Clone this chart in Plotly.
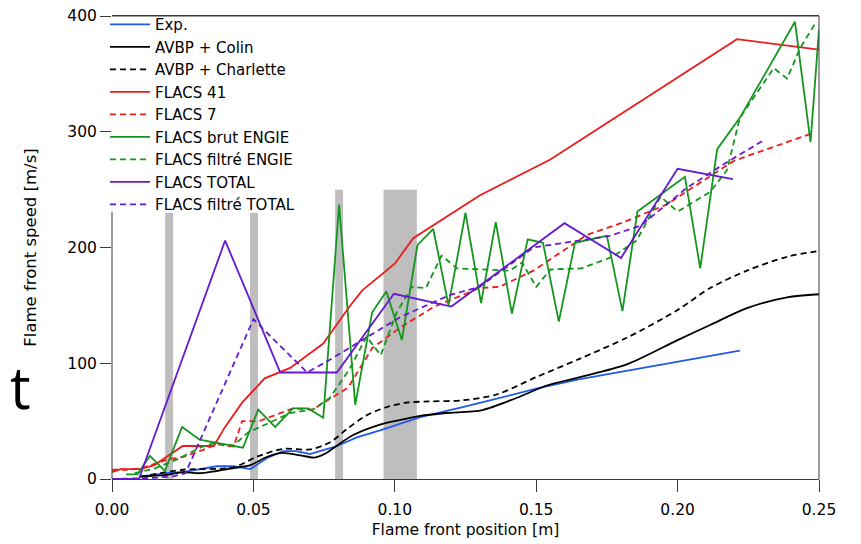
import plotly.graph_objects as go

# ---------------- data ----------------
exp_x = [0.010, 0.019, 0.025, 0.037, 0.043, 0.049, 0.0547, 0.0605, 0.065, 0.070, 0.0747, 0.0796, 0.0866, 0.0948, 0.109, 0.124, 0.150, 0.165, 0.222]
exp_y = [2, 5, 6, 11, 11, 8.6, 18, 24, 24, 21.6, 25, 28.5, 36, 42, 53.5, 62, 78, 86, 111]

colin_x = [0.010, 0.019, 0.025, 0.031, 0.043, 0.049, 0.0547, 0.060, 0.0665, 0.0715, 0.0755, 0.0796, 0.0853, 0.0948, 0.102, 0.109, 0.118, 0.131, 0.143, 0.154, 0.1655, 0.182, 0.200, 0.2115, 0.2245, 0.2387, 0.250]
colin_y = [2, 3.5, 6, 5, 9.5, 12, 19, 22.5, 20.5, 18.5, 22, 29, 38, 47, 51, 54.5, 57, 59.6, 70, 81, 88, 99, 120, 133, 147.6, 157, 159.6]

charl_x = [0.010, 0.025, 0.043, 0.051, 0.0605, 0.070, 0.077, 0.083, 0.090, 0.097, 0.104, 0.112, 0.124, 0.136, 0.150, 0.1655, 0.182, 0.200, 0.2115, 0.2245, 0.2387, 0.250]
charl_y = [2, 8, 10, 19, 26, 25.5, 31.5, 43, 55, 62, 66, 67, 68, 73, 88, 104, 122, 146, 165, 180, 192, 197]

f41_x = [0.0, 0.003, 0.010, 0.015, 0.025, 0.036, 0.040, 0.046, 0.054, 0.063, 0.0747, 0.084, 0.0885, 0.100, 0.1065, 0.130, 0.155, 0.221, 0.250]
f41_y = [6, 8.6, 8.6, 12, 28.5, 28.5, 45, 66, 87, 96, 117, 149, 163, 186, 208, 245, 276, 380, 371]

f7_x = [0.0, 0.005, 0.010, 0.020, 0.025, 0.032, 0.037, 0.043, 0.046, 0.052, 0.064, 0.071, 0.0835, 0.092, 0.102, 0.114, 0.130, 0.137, 0.149, 0.168, 0.180, 0.196, 0.220, 0.248]
f7_y = [8, 8, 9, 17, 19, 25, 30, 28, 50, 50, 61, 60, 79, 113, 131, 149, 165, 166, 180, 211, 221, 237, 275, 299]

eb_x = [0.005, 0.009, 0.0134, 0.0187, 0.0248, 0.031, 0.0375, 0.0463, 0.0517, 0.0577, 0.064, 0.0694, 0.0747, 0.0803, 0.086, 0.092, 0.097, 0.1025, 0.108, 0.1136, 0.119, 0.125, 0.1305, 0.1357, 0.1414, 0.147, 0.1524, 0.158, 0.1637, 0.175, 0.1805, 0.1858, 0.2026, 0.208, 0.214, 0.222, 0.2415, 0.247, 0.250]
eb_y = [4, 4, 20, 7, 45, 34, 31, 27, 60, 45, 61, 61, 53, 237, 64, 144, 162, 120, 202, 216, 150, 230, 152, 222, 143, 207, 204, 136, 204, 210, 145, 231, 261, 182, 285, 312, 395, 291, 388]

ef_x = [0.008, 0.015, 0.023, 0.032, 0.036, 0.043, 0.048, 0.055, 0.063, 0.071, 0.077, 0.084, 0.090, 0.095, 0.1007, 0.106, 0.111, 0.1165, 0.122, 0.1407, 0.145, 0.150, 0.155, 0.166, 0.177, 0.1855, 0.194, 0.200, 0.2115, 0.2175, 0.222, 0.234, 0.2387, 0.2433, 0.249]
ef_y = [5, 9, 17, 28, 31, 29, 40, 48, 57, 60, 70, 95, 123, 107, 144, 166, 165, 193, 182, 180, 187, 166, 181, 182, 192, 206, 244, 231, 248, 267, 312, 355, 346, 372, 395]

tb_x = [0.0, 0.0095, 0.040, 0.0595, 0.0795, 0.0997, 0.120, 0.160, 0.180, 0.200, 0.2196]
tb_y = [0, 0, 206, 92, 92, 160, 149, 221, 191, 268, 259]

tf_x = [0.0, 0.015, 0.022, 0.026, 0.050, 0.069, 0.077, 0.102, 0.1195, 0.130, 0.149, 0.176, 0.187, 0.203, 0.217, 0.230]
tf_y = [0, 1, 2.5, 5, 138, 92, 103, 140, 159, 166, 200, 210, 219, 251, 273, 292]

band_x0 = [0.0188, 0.0488, 0.0789, 0.0960]
band_x1 = [0.0216, 0.0516, 0.0817, 0.1078]
band_top = [230, 230, 250, 250]

x_ticks = [0.00, 0.05, 0.10, 0.15, 0.20, 0.25]
x_tick_text = ["0.00", "0.05", "0.10", "0.15", "0.20", "0.25"]
y_ticks = [0, 100, 200, 300, 400]
y_axis_visible_from = 0
y_axis_visible_to = 231   # part of the left axis not hidden by the legend box

# ---------------- figure ----------------
BLUE = "#2159e8"
RED = "#ea1c1c"
GREEN = "#14961e"
PURPLE = "#6419d2"
DASH = "6px,4px"
AXC = "#3a3a3a"
FONT = "DejaVu Sans"

fig = go.Figure()

def add(x, y, name, color, dash=None, shape="linear", width=1.8):
    line = dict(color=color, width=width, dash=dash if dash else "solid", shape=shape)
    if shape == "spline":
        line["smoothing"] = 0.8
    fig.add_trace(go.Scatter(x=x, y=y, name=name, mode="lines", line=line))

add(exp_x, exp_y, "Exp.", BLUE)
add(colin_x, colin_y, "AVBP + Colin", "black", shape="spline")
add(charl_x, charl_y, "AVBP + Charlette", "black", dash=DASH, shape="spline")
add(f41_x, f41_y, "FLACS 41", RED)
add(f7_x, f7_y, "FLACS 7", RED, dash=DASH)
add(eb_x, eb_y, "FLACS brut ENGIE", GREEN)
add(ef_x, ef_y, "FLACS filtré ENGIE", GREEN, dash=DASH)
add(tb_x, tb_y, "FLACS TOTAL", PURPLE)
add(tf_x, tf_y, "FLACS filtré TOTAL", PURPLE, dash=DASH)

for a, b, t in zip(band_x0, band_x1, band_top):
    fig.add_shape(type="rect", xref="x", yref="y", x0=a, x1=b, y0=0, y1=t,
                  fillcolor="#bebebe", line=dict(width=0), layer="below")

# left axis line (partly hidden behind the legend in the reference), right and top frame
fig.add_shape(type="line", xref="paper", yref="y", x0=0, x1=0,
              y0=y_axis_visible_from, y1=y_axis_visible_to, line=dict(color=AXC, width=1))
fig.add_shape(type="line", xref="paper", yref="paper", x0=1, x1=1, y0=0, y1=1,
              line=dict(color=AXC, width=1))
fig.add_shape(type="line", xref="paper", yref="paper", x0=0, x1=1, y0=1, y1=1,
              line=dict(color=AXC, width=1))

fig.add_annotation(text="t", xref="paper", yref="paper", x=-0.147, y=0.199,
                   xanchor="left", yanchor="middle", showarrow=False,
                   font=dict(size=58, color="black", family="Open Sans"))

# top margin of 0 + legend slightly above the plot: plotly's automargin then
# settles the plot top at ~8 px with the legend touching the top of the figure
fig.update_layout(
    width=861, height=544,
    margin=dict(l=104, r=50, t=0, b=73),
    paper_bgcolor="white", plot_bgcolor="white",
    font=dict(family=FONT, size=14, color="black"),
    showlegend=True,
    legend=dict(x=-0.0099, y=1.017, xanchor="left", yanchor="top",
                bgcolor="rgba(0,0,0,0)", borderwidth=0,
                font=dict(size=15, family=FONT, color="black"),
                tracegroupgap=0, itemwidth=40),
    xaxis=dict(range=[0, 0.25], tickvals=x_ticks, ticktext=x_tick_text, automargin=False,
               showgrid=False, zeroline=False, showline=True, linecolor=AXC, linewidth=1,
               mirror=True, ticks="outside", ticklen=12, tickcolor=AXC,
               ticklabelstandoff=4, ticklabeloverflow="allow",
               tickfont=dict(size=15.5, family=FONT),
               title=dict(text="Flame front position [m]", font=dict(size=15.5, family=FONT), standoff=6)),
    yaxis=dict(range=[0, 400], tickvals=y_ticks, automargin=False,
               showgrid=False, zeroline=False, showline=False,
               ticks="outside", ticklen=11, tickcolor=AXC, ticklabeloverflow="allow",
               tickfont=dict(size=15.5, family=FONT),
               title=dict(text="Flame front speed [m/s]", font=dict(size=16.5, family=FONT), standoff=26)),
)

fig.write_html("out.html")
